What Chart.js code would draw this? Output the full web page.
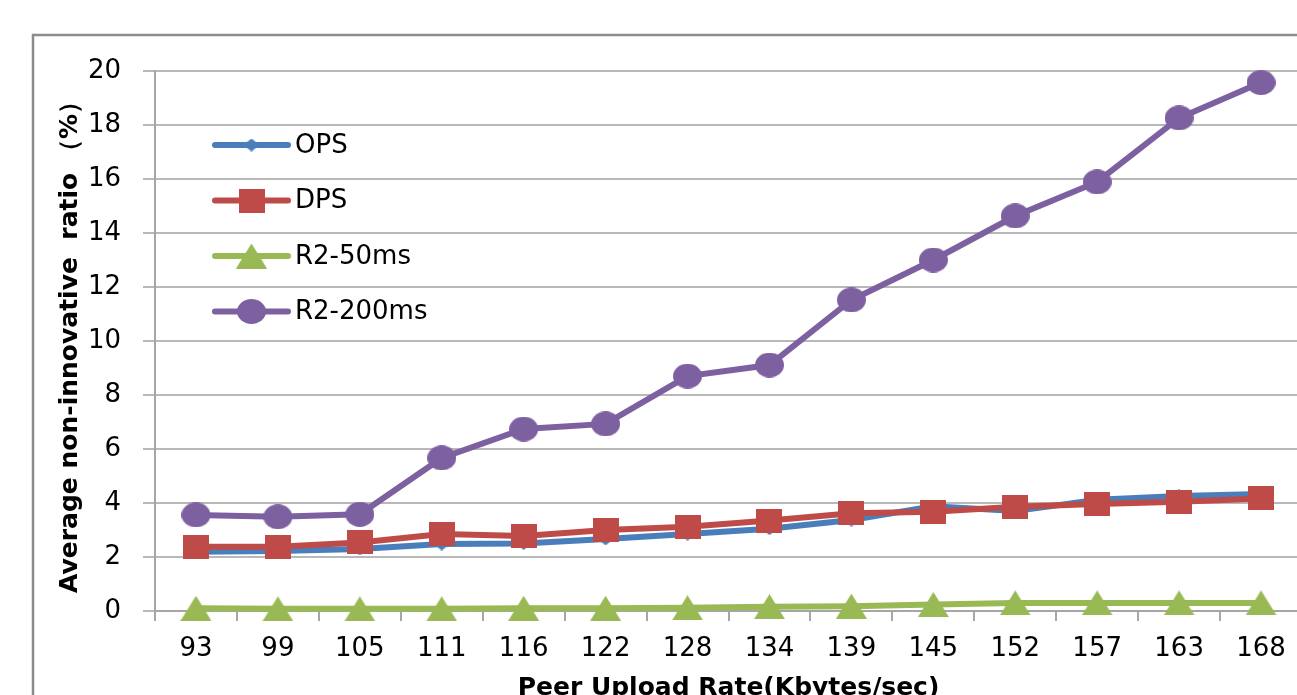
<!DOCTYPE html>
<html>
<head>
<meta charset="utf-8">
<script src="https://cdn.jsdelivr.net/npm/chart.js@4/dist/chart.umd.min.js"></script>
<style>
  html, body { margin: 0; padding: 0; background: #fff; overflow: hidden; }
  #wrap { position: absolute; left: 0; top: 0; width: 1340px; height: 740px; }
</style>
</head>
<body>
<div id="wrap"><canvas id="c" width="1340" height="740"></canvas></div>
<script>
// Peer upload rate (Kbytes/sec)
const rates = ['93', '99', '105', '111', '116', '122', '128', '134', '139', '145', '152', '157', '163', '168'];

// Average non-innovative ratio (%) per scheme
const ops      = [2.19, 2.22, 2.30, 2.48, 2.50, 2.67, 2.85, 3.05, 3.37, 3.88, 3.70, 4.12, 4.26, 4.33];
const dps      = [2.38, 2.38, 2.54, 2.85, 2.78, 3.00, 3.12, 3.35, 3.62, 3.68, 3.86, 3.96, 4.05, 4.17];
const r2_50ms  = [0.10, 0.08, 0.08, 0.08, 0.10, 0.10, 0.12, 0.16, 0.18, 0.24, 0.30, 0.30, 0.30, 0.30];
const r2_200ms = [3.56, 3.49, 3.58, 5.67, 6.74, 6.93, 8.70, 9.11, 11.52, 13.00, 14.63, 15.89, 18.26, 19.57];

const yTicks = [0, 2, 4, 6, 8, 10, 12, 14, 16, 18, 20];

const FONT = 'DejaVu Sans';

// Marker sprites (slightly wider than tall, centred on the data point)
function sprite(w, h, color, shape) {
  const c = document.createElement('canvas');
  c.width = w; c.height = h;
  const g = c.getContext('2d');
  g.fillStyle = color;
  g.beginPath();
  if (shape === 'diamond') {
    g.moveTo(w / 2, 0); g.lineTo(w, h / 2); g.lineTo(w / 2, h); g.lineTo(0, h / 2);
  } else if (shape === 'square') {
    g.rect(0, 0, w, h);
  } else if (shape === 'triangle') {
    g.moveTo(w / 2, 0); g.lineTo(w, h); g.lineTo(0, h);
  } else {
    g.ellipse(w / 2, h / 2, w / 2, h / 2, 0, 0, Math.PI * 2);
  }
  g.closePath();
  g.fill();
  return c;
}

// Outer frame of the chart object
const framePlugin = {
  id: 'frame',
  beforeDraw(chart) {
    const ctx = chart.ctx;
    ctx.save();
    ctx.fillStyle = '#ffffff';
    ctx.fillRect(0, 0, chart.width, chart.height);
    ctx.strokeStyle = '#8c8c8c';
    ctx.lineWidth = 2.5;
    ctx.strokeRect(33, 35, chart.width, chart.height);
    ctx.restore();
  }
};

// Legend drawn inside the plot: line segment with the series marker on it
const innerLegend = {
  id: 'innerLegend',
  afterDatasetsDraw(chart, args, opts) {
    const ctx = chart.ctx;
    ctx.save();
    chart.data.datasets.forEach((ds, i) => {
      const y = opts.top + i * opts.rowGap;
      ctx.strokeStyle = ds.borderColor;
      ctx.lineWidth = ds.borderWidth;
      ctx.lineCap = 'round';
      ctx.beginPath();
      ctx.moveTo(opts.left, y);
      ctx.lineTo(opts.left + opts.lineLen, y);
      ctx.stroke();
      Chart.helpers.drawPoint(ctx, {
        pointStyle: ds.pointStyle,
        radius: ds.pointRadius,
        borderWidth: 0
      }, opts.left + opts.lineLen / 2, y);
      ctx.fillStyle = '#000';
      ctx.font = opts.fontSize + 'px "' + FONT + '"';
      ctx.textBaseline = 'middle';
      ctx.textAlign = 'left';
      ctx.fillText(ds.label, opts.left + opts.lineLen + 7, y + 1);
    });
    ctx.restore();
  }
};

function series(label, data, color, marker, radius, order) {
  return {
    label, data, order,
    clip: false,
    borderColor: color,
    backgroundColor: color,
    borderWidth: 6,
    pointStyle: marker,
    pointRadius: radius,
    pointHoverRadius: radius,
    pointBackgroundColor: color,
    pointBorderColor: color,
    pointBorderWidth: 0,
    tension: 0,
    fill: false
  };
}

const BLUE = '#4a7ebb', RED = '#be4b48', GREEN = '#98b954', PURPLE = '#7d60a0';

new Chart(document.getElementById('c'), {
  type: 'line',
  data: {
    labels: rates,
    datasets: [
      series('OPS', ops, BLUE, sprite(16, 13, BLUE, 'diamond'), 8, 4),
      series('DPS', dps, RED, sprite(26, 24, RED, 'square'), 13, 3),
      series('R2-50ms', r2_50ms, GREEN, sprite(31, 25, GREEN, 'triangle'), 15, 2),
      series('R2-200ms', r2_200ms, PURPLE, sprite(29, 25, PURPLE, 'circle'), 14, 1)
    ]
  },
  options: {
    responsive: false,
    animation: false,
    devicePixelRatio: 1,
    layout: { padding: { left: 0, top: 71, right: 38, bottom: 0 } },
    plugins: {
      legend: { display: false },
      tooltip: { enabled: false },
      innerLegend: { left: 215, top: 145, rowGap: 55.5, lineLen: 73, fontSize: 26 }
    },
    scales: {
      x: {
        type: 'category',
        offset: true,
        grid: {
          offset: true,
          drawOnChartArea: false,
          drawTicks: true,
          tickLength: 10,
          color: '#a6a6a6',
          lineWidth: 2
        },
        border: { display: true, color: '#a6a6a6', width: 2 },
        ticks: {
          color: '#000',
          font: { family: FONT, size: 26 },
          padding: 13,
          maxRotation: 0,
          autoSkip: false
        },
        title: {
          display: true,
          text: 'Peer Upload Rate(Kbytes/sec)',
          color: '#000',
          font: { family: FONT, size: 25, weight: 'bold' },
          padding: { top: 0, bottom: 37 }
        },
        afterFit(scale) { scale.height = 129; }
      },
      y: {
        min: 0,
        max: 20,
        afterBuildTicks(scale) { scale.ticks = yTicks.map(v => ({ value: v })); },
        grid: {
          color: '#b8b8b8',
          lineWidth: 2,
          tickLength: 12,
          drawTicks: true
        },
        border: { display: true, color: '#a6a6a6', width: 2 },
        ticks: {
          color: '#000',
          font: { family: FONT, size: 26 },
          padding: 22
        },
        title: {
          display: true,
          text: 'Average non-innovative  ratio （%）',
          color: '#000',
          font: { family: FONT, size: 25, weight: 'bold' },
          padding: { top: 55, bottom: 0 }
        },
        afterFit(scale) { scale.width = 155; }
      }
    }
  },
  plugins: [framePlugin, innerLegend]
});
</script>
</body>
</html>
